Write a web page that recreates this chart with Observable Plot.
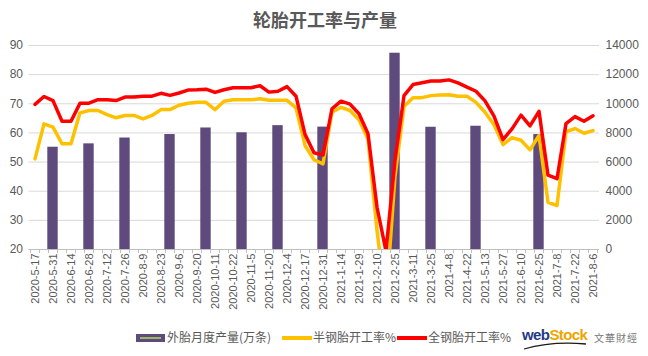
<!DOCTYPE html>
<html>
<head>
<meta charset="utf-8">
<script src="https://cdn.jsdelivr.net/npm/d3@7"></script>
<script src="https://cdn.jsdelivr.net/npm/@observablehq/plot@0.6"></script>
<style>
  body { margin: 0; background: #fff; }
  #wrap { position: relative; width: 648px; height: 356px; overflow: hidden; background: #fff; }
  #title { position: absolute; top: 6px; left: 0; width: 650px; text-align: center;
    font: bold 18px "Noto Sans CJK SC", sans-serif; color: #595959; }
  #chart { position: absolute; top: 30px; left: 0; }
  .lg { position: absolute; font: 12px "Noto Sans CJK SC", sans-serif; color: #595959; line-height: 14px; }
</style>
</head>
<body>
<div id="wrap">
  <div id="title">轮胎开工率与产量</div>
  <div id="chart"></div>
  <div id="legend"></div>
</div>
<script>
// ---- data ----
const categories = [
  "2020-5-17","2020-5-24","2020-5-31","2020-6-7","2020-6-14","2020-6-21","2020-6-28","2020-7-5",
  "2020-7-12","2020-7-19","2020-7-26","2020-8-2","2020-8-9","2020-8-16","2020-8-23","2020-8-30",
  "2020-9-6","2020-9-13","2020-9-20","2020-9-27","2020-10-11","2020-10-16","2020-10-22","2020-10-29",
  "2020-11-5","2020-11-12","2020-11-20","2020-11-27","2020-12-4","2020-12-10","2020-12-17","2020-12-24",
  "2020-12-31","2021-1-7","2021-1-14","2021-1-21","2021-1-29","2021-2-4","2021-2-10","2021-2-18",
  "2021-2-25","2021-3-4","2021-3-11","2021-3-18","2021-3-25","2021-4-1","2021-4-8","2021-4-15",
  "2021-4-22","2021-4-29","2021-5-13","2021-5-20","2021-5-27","2021-6-3","2021-6-10","2021-6-17",
  "2021-6-25","2021-7-1","2021-7-8","2021-7-15","2021-7-22","2021-7-29","2021-8-6"
];
// 半钢胎开工率% (left axis)
const semiSteel = [
  51.1,63.1,62.0,56.3,56.3,66.9,67.7,67.7,66.3,65.2,66.0,66.0,64.8,66.0,68.0,68.0,
  69.5,70.2,70.5,70.5,68.0,70.9,71.4,71.4,71.4,71.7,71.2,71.2,71.2,68.6,55.7,50.8,
  49.4,67.1,68.8,67.7,64.5,57.8,26.5,2.0,45.0,69.1,72.1,72.1,72.8,73.0,73.1,72.6,
  72.6,70.5,67.1,62.8,56.0,58.4,57.5,54.2,59.1,36.2,35.1,60.4,61.5,59.9,60.8
];
// 全钢胎开工率% (left axis)
const allSteel = [
  69.8,72.5,71.1,64.0,64.0,70.2,70.2,71.4,71.4,71.1,72.3,72.3,72.6,72.6,73.6,72.9,
  73.7,74.7,74.8,75.0,73.9,74.8,75.5,75.5,75.5,76.2,74.0,74.3,75.9,72.6,59.5,53.2,
  52.4,68.3,70.9,69.9,66.6,59.7,34.5,19.5,50.5,72.8,76.6,77.2,77.8,77.8,78.2,77.2,
  75.7,74.3,71.0,65.8,57.7,61.4,66.1,62.4,67.4,45.5,44.3,63.2,65.6,64.0,65.9
];
// 外胎月度产量(万条) (right axis)
const barDates = ["2020-5-31","2020-6-28","2020-7-26","2020-8-30","2020-9-27","2020-10-29",
  "2020-11-27","2020-12-31","2021-2-25","2021-3-25","2021-4-29","2021-6-25"];
const barValues = [7020,7250,7650,7890,8340,8010,8500,8400,13470,8390,8460,7890];
const leftTicks = [20,30,40,50,60,70,80,90];
const rightTicks = [0,2000,4000,6000,8000,10000,12000,14000];

// right axis (0–14000) is mapped onto the left scale (20–90)
const toLeft = v => 20 + v * 70 / 14000;

const lineData = categories.map((c, i) => ({date: c, semi: semiSteel[i], all: allSteel[i]}));
const barData = barDates.map((d, i) => ({date: d, v: barValues[i]}));
const step = (648 - 28.5 - 49) / categories.length;

const chart = Plot.plot({
  width: 648, height: 290,
  marginTop: 15, marginBottom: 71, marginLeft: 28.5, marginRight: 49,
  x: {type: "band", domain: categories, padding: 0},
  y: {domain: [20, 90]},
  style: {fontFamily: "'Liberation Sans', Arial, sans-serif", fontSize: "12px", color: "#595959", background: "white"},
  marks: [
    Plot.gridY(leftTicks.slice(1), {stroke: "#d9d9d9", strokeOpacity: 1}),
    Plot.barY(barData, {x: "date", y1: 20, y2: d => toLeft(d.v), fill: "#5e4a7c", insetLeft: -0.7, insetRight: -0.7}),
    Plot.line(lineData, {x: "date", y: "semi", stroke: "#ffc000", strokeWidth: 3.5, clip: true}),
    Plot.line(lineData, {x: "date", y: "all", stroke: "#ff0000", strokeWidth: 3.5, clip: true}),
    Plot.ruleY([20], {stroke: "#bfbfbf"}),
    Plot.ruleX(categories, {x: d => d, y1: 20, y2: 18.6, dx: -step / 2, stroke: "#bfbfbf", clip: false}),
    Plot.ruleX([categories[categories.length - 1]], {x: d => d, y1: 20, y2: 18.6, dx: step / 2, stroke: "#bfbfbf"}),
    Plot.axisY(leftTicks, {anchor: "left", tickSize: 0, tickPadding: 6, label: null, fontSize: 12}),
    Plot.axisY(rightTicks.map(toLeft), {anchor: "right", tickSize: 0, tickPadding: 6, label: null, fontSize: 12,
      tickFormat: d => String(Math.round((d - 20) * 14000 / 70))}),
    Plot.axisX(categories.filter((d, i) => i % 2 === 0), {tickRotate: -90, tickSize: 0, tickPadding: 4, label: null, fontSize: 11})
  ]
});
document.getElementById("chart").appendChild(chart);

// ---- legend ----
const legend = document.getElementById("legend");
legend.innerHTML = `
  <div style="position:absolute;left:136px;top:334px;width:29px;height:8px;background:#5e4a7c;"></div>
  <div style="position:absolute;left:140px;top:337px;width:21px;height:2px;background:#9bbb59;"></div>
  <div class="lg" style="left:167px;top:330px;">外胎月度产量(万条)</div>
  <div style="position:absolute;left:282px;top:336px;width:30px;height:4px;background:#ffc000;"></div>
  <div class="lg" style="left:313px;top:330px;">半钢胎开工率%</div>
  <div style="position:absolute;left:397px;top:336px;width:30px;height:4px;background:#ff0000;"></div>
  <div class="lg" style="left:428px;top:330px;">全钢胎开工率%</div>
  <div style="position:absolute;left:522px;top:326px;font:bold 15px 'Liberation Sans',Arial,sans-serif;letter-spacing:-0.6px;">
    <span style="color:#1f3b86;">web</span><span style="color:#f0a500;">Stock</span></div>
  <svg style="position:absolute;left:522px;top:341px;" width="66" height="10"><path d="M2,8 Q30,0 64,3" stroke="#1a1a1a" stroke-width="1.3" fill="none"/></svg>
  <div class="lg" style="left:594px;top:331px;font-size:10px;letter-spacing:1px;color:#777;">文華財經</div>
`;
</script>
</body>
</html>
